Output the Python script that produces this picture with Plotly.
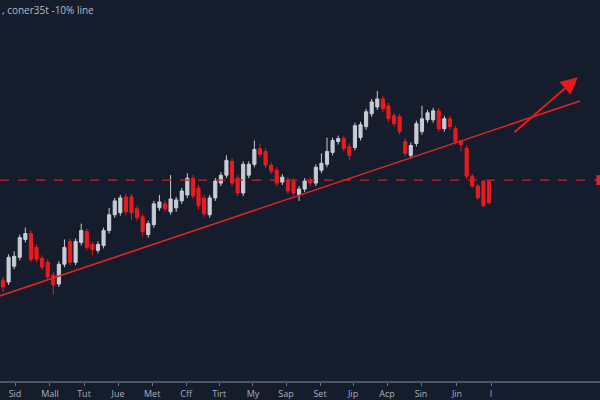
import plotly.graph_objects as go

# ---- data ----
opens = [99.8, 99.4, 102.6, 104.4, 108.0, 109.2, 106.4, 104.2, 103.4, 100.8,
         99.0, 103.0, 107.6, 103.4, 107.4, 109.6, 107.0, 105.8, 106.8, 109.8,
         113.0, 113.4, 116.6, 116.6, 114.2, 112.6, 109.0, 111.0, 114.4, 115.2,
         113.6, 114.4, 115.8, 117.0, 120.4, 118.4, 116.4, 113.0, 116.4, 119.4,
         121.0, 123.8, 120.4, 117.4, 121.0, 123.2, 126.4, 125.8, 123.0, 122.0,
         119.6, 120.0, 119.8, 117.0, 118.2, 120.0, 119.4, 122.0, 123.2, 125.6,
         127.8, 128.4, 126.8, 126.6, 128.6, 130.8, 133.4, 134.8, 136.4, 135.0,
         133.0, 132.8, 127.8, 125.0, 127.4, 129.8, 132.2, 132.2, 134.0, 130.4,
         132.4, 130.4, 128.0, 126.4, 120.8, 118.8, 119.8, 119.8]
highs = [100.4, 105.0, 105.6, 109.0, 110.4, 109.8, 107.0, 104.8, 104.0, 101.4,
         103.6, 108.0, 108.2, 108.2, 111.2, 110.2, 107.6, 107.6, 110.4, 114.4,
         116.4, 117.0, 117.2, 117.2, 114.8, 113.2, 111.8, 115.8, 117.0, 115.8,
         121.0, 116.6, 118.4, 121.4, 121.0, 119.0, 117.0, 117.0, 120.4, 121.6,
         125.0, 124.4, 121.0, 123.8, 123.8, 128.0, 127.4, 126.4, 123.6, 122.6,
         121.2, 120.6, 120.4, 118.8, 120.4, 120.6, 123.2, 125.4, 128.6, 128.6,
         129.0, 129.0, 127.4, 131.6, 131.8, 134.4, 136.4, 138.0, 137.0, 135.6,
         133.6, 133.4, 128.4, 127.6, 132.0, 135.0, 134.2, 134.6, 134.6, 133.0,
         133.0, 131.0, 128.0, 127.0, 121.2, 119.2, 120.0, 120.0]
lows = [97.4, 98.8, 102.0, 103.8, 107.4, 103.4, 103.4, 101.8, 99.8, 96.8,
        98.4, 102.4, 102.8, 102.8, 106.8, 105.8, 104.8, 105.2, 106.2, 109.2,
        112.4, 112.8, 113.0, 112.0, 111.8, 108.6, 108.4, 110.4, 113.8, 113.6,
        113.0, 113.6, 115.2, 116.4, 116.2, 114.0, 112.6, 112.4, 115.8, 118.8,
        120.4, 118.8, 116.8, 116.8, 120.4, 122.6, 124.6, 122.4, 121.2, 118.8,
        119.0, 117.2, 116.8, 115.8, 117.6, 118.8, 118.8, 121.4, 122.6, 125.0,
        127.2, 125.8, 124.0, 126.0, 128.0, 130.2, 132.8, 134.2, 133.8, 131.8,
        130.8, 129.2, 124.8, 124.4, 126.8, 129.2, 131.6, 131.6, 129.8, 129.8,
        130.2, 127.2, 125.8, 120.2, 118.4, 116.0, 114.6, 115.2]
closes = [98.4, 104.4, 104.6, 108.4, 109.2, 104.0, 104.0, 102.4, 100.4, 98.8,
          103.0, 106.4, 103.4, 107.6, 109.8, 106.4, 106.0, 107.0, 109.8, 113.0,
          115.8, 116.4, 113.6, 113.4, 112.4, 109.6, 111.2, 115.2, 115.6, 114.2,
          116.2, 116.0, 117.8, 120.4, 116.8, 114.8, 113.2, 116.4, 119.8, 121.0,
          124.0, 119.4, 117.4, 123.2, 123.2, 126.2, 125.2, 123.0, 121.8, 119.4,
          120.6, 117.8, 117.4, 118.2, 119.8, 119.4, 122.6, 123.4, 125.8, 128.0,
          128.4, 126.4, 125.0, 131.0, 131.2, 133.8, 135.8, 136.4, 134.4, 132.4,
          131.4, 129.8, 125.4, 127.0, 131.4, 132.4, 133.6, 134.0, 130.4, 132.4,
          130.8, 127.8, 127.2, 120.8, 118.8, 116.4, 114.8, 115.4]

tick_positions = [2.15, 8.41, 14.5, 20.6, 26.7, 32.8, 38.7, 44.75, 50.66,
                  56.75, 62.66, 68.74, 74.83, 81.27, 87.36]
tick_labels = ["Sid", "Mall", "Tut", "Jue", "Met", "Cff", "Tirt", "My", "Sap",
               "Set", "Jip", "Acp", "Sin", "Jin", "I"]

support_level = 120.0
trend_x = [-0.537, 103.3]
trend_y = [96.6, 136.0]
arrow_from = (91.3, 129.4)
arrow_to = (102.9, 140.8)
title_text = ", coner35t -10% line"

BG = "#151c2b"
RED = "#ea1a1f"
LIGHT = "#c8ccd4"

x_idx = list(range(len(opens)))

fig = go.Figure()
fig.add_trace(go.Candlestick(
    x=x_idx, open=opens, high=highs, low=lows, close=closes,
    increasing=dict(line=dict(color=LIGHT, width=1), fillcolor=LIGHT),
    decreasing=dict(line=dict(color=RED, width=1), fillcolor=RED),
    whiskerwidth=0, showlegend=False, hoverinfo="skip",
))

# trend line
fig.add_trace(go.Scatter(x=trend_x, y=trend_y, mode="lines",
                         line=dict(color="#dc2429", width=1.6),
                         showlegend=False, hoverinfo="skip"))

# dashed support line
fig.add_shape(type="line", xref="paper", x0=0, x1=1, yref="y",
              y0=support_level, y1=support_level,
              line=dict(color="#c4262c", width=1.2, dash="dash"))
# right edge marker
fig.add_shape(type="rect", xref="paper", x0=0.994, x1=1.0, yref="y",
              y0=support_level - 1.0, y1=support_level + 1.0,
              fillcolor="#d8262a", line=dict(width=0))

# arrow
fig.add_annotation(x=arrow_to[0], y=arrow_to[1], ax=arrow_from[0], ay=arrow_from[1],
                   xref="x", yref="y", axref="x", ayref="y", text="",
                   showarrow=True, arrowhead=2, arrowsize=1.7, arrowwidth=2,
                   arrowcolor="#e8181d")

# title
fig.add_annotation(x=0, y=1, xref="paper", yref="paper", xanchor="left",
                   yanchor="top", text=title_text, showarrow=False,
                   xshift=0, yshift=-1,
                   font=dict(family="Open Sans", size=10, color="#b5bac4"))

fig.update_layout(
    width=600, height=400,
    margin=dict(l=0, r=0, t=0, b=15),
    paper_bgcolor=BG, plot_bgcolor=BG,
    boxgap=0.2,
    xaxis=dict(range=[-0.537, 106.87], rangeslider=dict(visible=False),
               tickmode="array", tickvals=tick_positions, ticktext=tick_labels,
               showgrid=False, zeroline=False, showline=True,
               linecolor="#4c5566", linewidth=2,
               ticks="outside", ticklen=3, tickcolor="#6a7282",
               tickfont=dict(family="Open Sans", size=9, color="#a7aebb")),
    yaxis=dict(range=[79.4, 156.4], visible=False, showgrid=False,
               zeroline=False),
)

fig.write_html("out.html")
